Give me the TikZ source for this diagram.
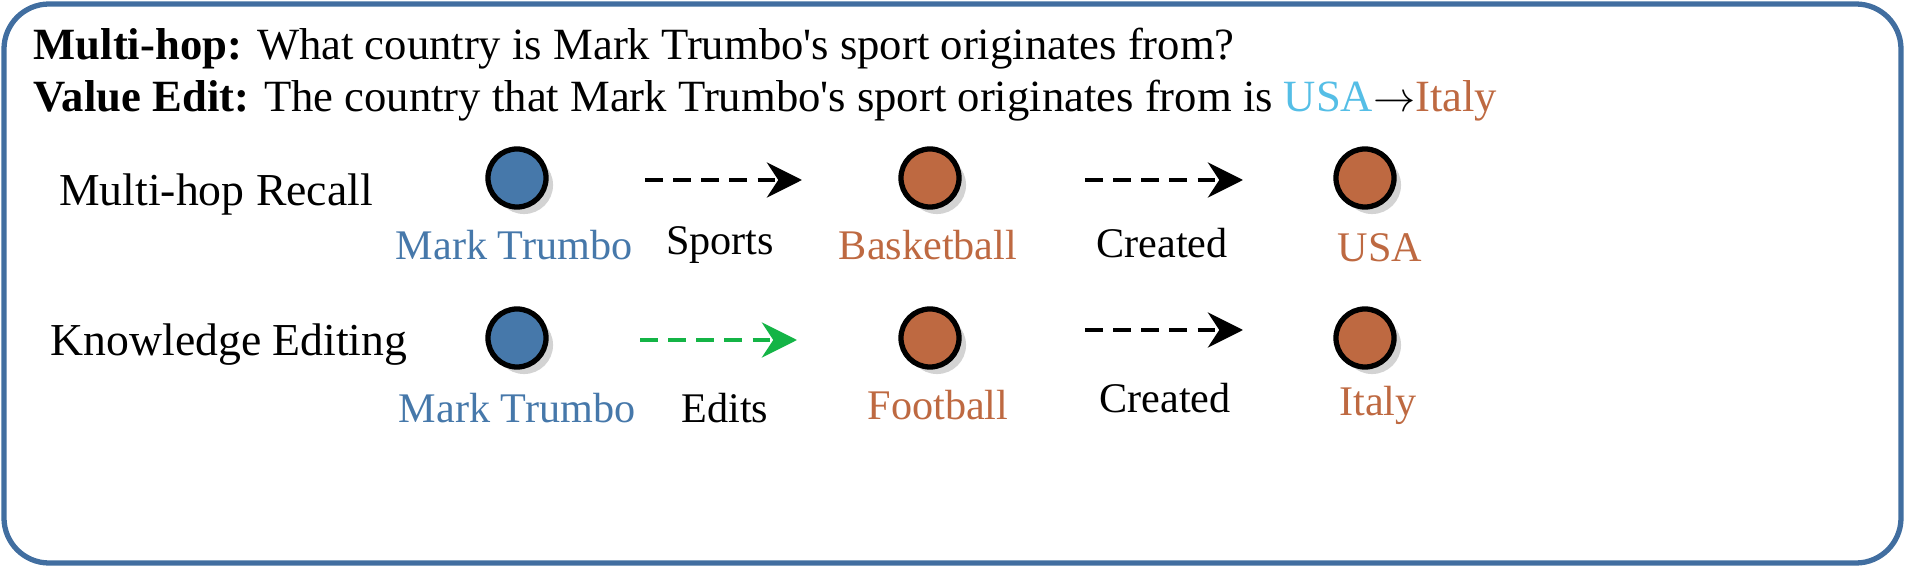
\documentclass[tikz,border=0pt]{standalone}
\usepackage{fontspec}
\setmainfont{Liberation Serif}
\usetikzlibrary{arrows.meta,shadows}
\definecolor{frame}{RGB}{65,110,160}
\definecolor{nblue}{RGB}{70,120,170}
\definecolor{norange}{RGB}{190,105,65}
\definecolor{lblue}{RGB}{85,190,230}
\definecolor{egreen}{RGB}{20,180,70}
\begin{document}
\begin{tikzpicture}[x=0.01cm,y=-0.01cm,
  ent/.style={circle,draw=black,line width=1.5pt,minimum size=0.58cm,inner sep=0pt,drop shadow={opacity=0.35,shadow xshift=2pt,shadow yshift=-2pt}},
  be/.style={ent,fill=nblue}, oe/.style={ent,fill=norange},
  lab/.style={font=\fontsize{12}{14}\selectfont,anchor=center},
  rlab/.style={font=\fontsize{13}{15}\selectfont,anchor=center},
  rel/.style={line width=1.1pt,dash pattern=on 5pt off 3pt,-{Stealth[length=10pt,width=10pt]}},
  txt/.style={font=\fontsize{12.7}{15}\selectfont,anchor=base west,inner sep=0pt}]
\useasboundingbox (0,0) rectangle (1905,567);
\draw[frame,line width=1.5pt,rounded corners=0.45cm] (4,4) rectangle (1901,563);
\node[txt] (l1) at (33,60) {\textbf{Multi-hop:} What country is Mark Trumbo\textquotesingle s sport originates from?};
\node[txt] (l2) at (33,112) {\textbf{Value Edit:} The country that Mark Trumbo\textquotesingle s sport originates from is \textcolor{lblue}{USA}$\rightarrow$\textcolor{norange}{Italy}};
\node[rlab] (r1) at (216,195) {Multi-hop Recall};
\node[rlab] (r2) at (229,345) {Knowledge Editing};
\node[be] (a1) at (517,178) {};
\node[oe] (b1) at (930,178) {};
\node[oe] (c1) at (1365,178) {};
\node[be] (a2) at (517,338) {};
\node[oe] (b2) at (930,338) {};
\node[oe] (c2) at (1365,338) {};
\node[lab,text=nblue] (ta1) at (514,245) {Mark Trumbo};
\node[lab,text=norange] (tb1) at (928,245) {Basketball};
\node[lab,text=norange] (tc1) at (1380,248) {USA};
\node[lab,text=nblue] (ta2) at (517,408) {Mark Trumbo};
\node[lab,text=norange] (tb2) at (938,405) {Football};
\node[lab,text=norange] (tc2) at (1378,405) {Italy};
\coordinate (s1) at (645,180); \coordinate (e1) at (802,180);
\coordinate (s2) at (1085,180); \coordinate (e2) at (1243,180);
\coordinate (s3) at (640,340); \coordinate (e3) at (797,340);
\coordinate (s4) at (1085,330); \coordinate (e4) at (1243,330);
\draw[rel] (s1) -- (e1);
\draw[rel] (s2) -- (e2);
\draw[rel,egreen] (s3) -- (e3);
\draw[rel] (s4) -- (e4);
\node[lab] (q1) at (720,245) {Sports};
\node[lab] (q2) at (1162,243) {Created};
\node[lab] (q3) at (725,408) {Edits};
\node[lab] (q4) at (1165,398) {Created};
\end{tikzpicture}
\end{document}
